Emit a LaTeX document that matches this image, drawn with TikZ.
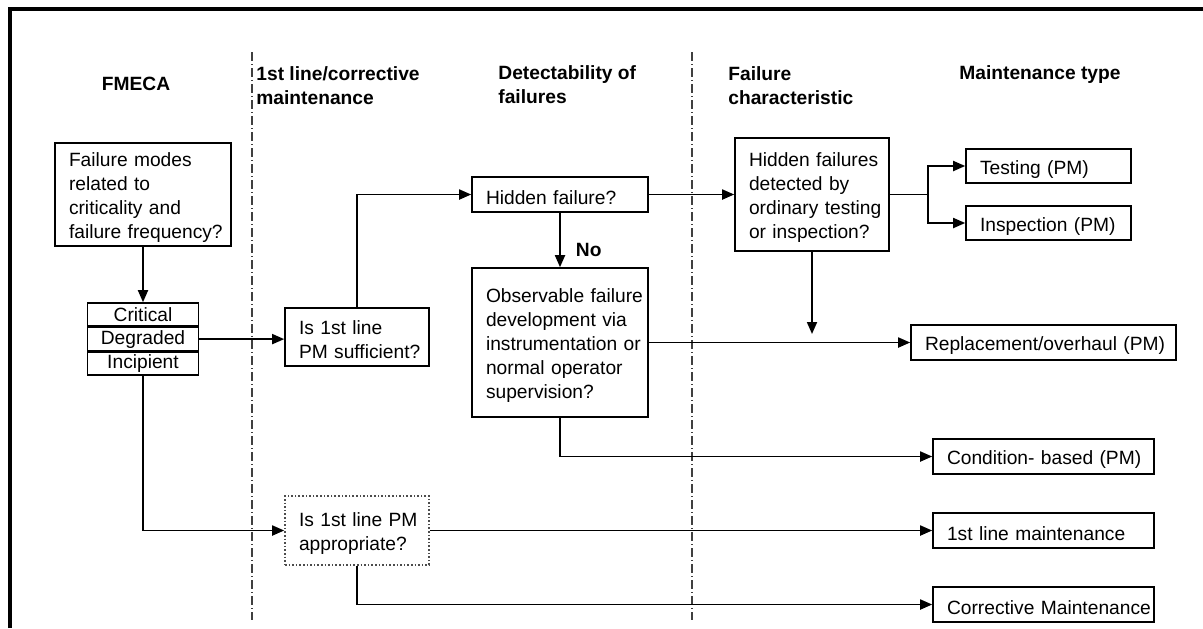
\documentclass[tikz,border=0pt]{standalone}
\usepackage{fontspec}
\setmainfont{Liberation Sans}
\usetikzlibrary{arrows.meta}
\usetikzlibrary{positioning}

\tikzset{
  txt/.style={font=\fontsize{9.6}{12}\selectfont},
  box/.style={txt, draw, rectangle, line width=0.8pt, align=left,
    inner xsep=7pt, inner ysep=0pt,
    execute at begin node={\hyphenpenalty=10000\exhyphenpenalty=10000\relax\rule{0pt}{10pt}}},
  lvl/.style={txt, draw, rectangle, line width=0.8pt, inner sep=0pt,
    minimum width=55.5pt, minimum height=11.5pt},
  head/.style={font=\bfseries\fontsize{9.6}{12}\selectfont, align=left, inner sep=0pt},
  lbl/.style={font=\bfseries\fontsize{9.6}{12}\selectfont, inner sep=0pt},
  conn/.style={line width=0.9pt, -{Triangle[length=6pt,width=5pt]}},
  wire/.style={line width=0.9pt},
  lane/.style={line width=0.6pt, black!75, dash pattern=on 4.5pt off 1.5pt on 0.5pt off 1.5pt},
}

\begin{document}
\begin{tikzpicture}[x=0.5pt, y=-0.5pt]
  \useasboundingbox (0,0) rectangle (1203,628);
  \draw[line width=2pt] (9.5,628) -- (9.5,9) -- (1203,9);

  \draw[lane] (252,52) -- (252,620);
  \draw[lane] (692,52) -- (692,620);

  \node[head, anchor=base] (hfmeca) at (136,90) {FMECA};
  \node[head, anchor=north west] (hfirst) at (256,66) {1st line/corrective\\maintenance};
  \node[head, anchor=north west] (hdetect) at (498,65) {Detectability of\\failures};
  \node[head, anchor=north west] (hchar) at (728,66) {Failure\\characteristic};
  \node[head, anchor=base west] (htype) at (959,79) {Maintenance type};

  \node[box, text width=74pt, minimum height=51.5pt] (fm) at (143,194.5)
    {Failure~modes\\related~to\\criticality~and\\failure~frequency?};
  \node[lvl] (crit) at (143,314.5) {Critical};
  \node[lvl, below=0pt of crit] (degr) {Degraded};
  \node[lvl, below=0pt of degr] (incip) {Incipient};

  \node[box, text width=58pt, minimum height=29pt] (suff) at (357,337)
    {Is~1st~line\\PM~sufficient?};
  \node[box, text width=58pt, minimum height=34.5pt, densely dotted, draw=black!70] (appr) at (357,530.5)
    {Is~1st~line~PM\\appropriate?};

  \node[box, text width=74pt, minimum height=17.5pt] (hid) at (560,194.5) {Hidden~failure?};
  \node[box, text width=74pt, minimum height=74.5pt] (obs) at (560,342.5)
    {Observable~failure\\development~via\\instrumentation~or\\normal~operator\\supervision?};

  \node[box, text width=63pt, minimum height=56.5pt] (hfd) at (812,194.5)
    {Hidden~failures\\detected~by\\ordinary~testing\\or~inspection?};

  \node[box, text width=68.5pt, minimum height=17pt] (test) at (1048.5,166) {Testing~(PM)};
  \node[box, text width=68.5pt, minimum height=17pt] (insp) at (1048.5,223) {Inspection~(PM)};
  \node[box, text width=118.5pt, minimum height=17.5pt] (repl) at (1043.5,342.5) {Replacement/overhaul~(PM)};
  \node[box, text width=96.5pt, minimum height=17.5pt] (cond) at (1043.5,456.5) {Condition-~based~(PM)};
  \node[box, text width=96.5pt, minimum height=17.5pt] (firstl) at (1043.5,530.5) {1st~line~maintenance};
  \node[box, text width=96.5pt, minimum height=17.5pt] (corr) at (1043.5,604.5) {Corrective~Maintenance};

  \coordinate (split) at (928,194.5);
  \coordinate (drop) at (812,334);

  \draw[conn] (fm.south) -- (fm.south |- crit.north);
  \draw[conn] (degr.east) -- (degr.east -| suff.west);
  \draw[conn] (suff.north) |- (hid.west);
  \draw[conn] (hid.east) -- (hfd.west);
  \draw[conn] (hid.south) -- node[lbl, pos=0.68, anchor=west, xshift=7.5pt] {No} (obs.north);
  \draw[wire] (hfd.east) -- (split);
  \draw[conn] (split) |- (test.west);
  \draw[conn] (split) |- (insp.west);
  \draw[conn] (hfd.south) -- (drop);
  \draw[conn] (obs.east) -- (repl.west);
  \draw[conn] (obs.south) |- (cond.west);
  \draw[conn] (incip.south) |- (appr.west);
  \draw[conn] (appr.east) -- (firstl.west);
  \draw[conn] (appr.south) |- (corr.west);
\end{tikzpicture}
\end{document}
